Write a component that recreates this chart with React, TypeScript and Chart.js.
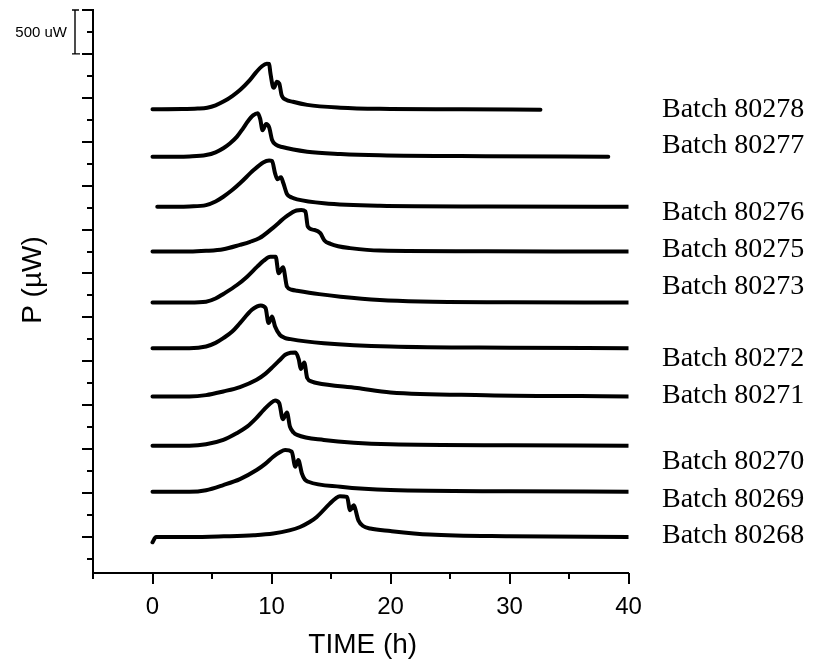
import React, { useEffect, useRef } from 'react';
import { Chart, registerables } from 'chart.js';

Chart.register(...registerables);

// ---- data ----
const batchNames = [
  'Batch 80278', 'Batch 80277', 'Batch 80276', 'Batch 80275', 'Batch 80273',
  'Batch 80272', 'Batch 80271', 'Batch 80270', 'Batch 80269', 'Batch 80268',
];

// vertical stacking offsets of each thermogram (µW)
const offsets = [4870, 4330, 3760, 3250, 2670, 2150, 1600, 1040, 515, 0];

// time (h) and heat flow above own baseline (µW)
const t80278 = [0, 2.5, 3.8, 4.6, 5.3, 6.0, 6.7, 7.4, 8.1, 8.7, 9.2, 9.6, 9.8, 9.9, 10.1, 10.2, 10.45, 10.65, 10.85, 11.2, 11.8, 13.0, 15.8, 19.1, 26, 32.6];
const p80278 = [0, 2, 8, 18, 45, 90, 150, 225, 320, 420, 490, 518, 515, 420, 265, 245, 312, 295, 160, 110, 85, 50, 18, 5, 0, -5];

const t80277 = [0, 2.0, 3.1, 4.5, 5.3, 5.95, 6.5, 7.1, 7.6, 8.0, 8.45, 8.85, 9.05, 9.25, 9.55, 9.8, 10.05, 10.4, 10.9, 13.0, 15.8, 19.1, 28, 38.3];
const p80277 = [0, 0, 3, 19, 50, 96, 150, 228, 320, 400, 470, 494, 430, 300, 372, 335, 190, 135, 110, 57, 31, 16, 5, 0];

const t80276 = [0.4, 2.0, 3.1, 4.5, 5.3, 5.95, 6.7, 7.35, 8.5, 9.3, 9.8, 10.05, 10.3, 10.5, 10.8, 11.0, 11.3, 11.7, 12.15, 14.4, 19.1, 28, 40];
const p80276 = [0, 0, 3, 19, 60, 114, 190, 267, 418, 505, 526, 520, 380, 312, 335, 267, 145, 105, 84, 39, 11, 3, 0];

const t80275 = [0, 2.0, 3.1, 4.5, 5.95, 7.35, 8.2, 9.0, 10.1, 11.25, 12.1, 12.5, 12.85, 13.05, 13.55, 14.1, 14.45, 14.95, 15.6, 16.6, 19.1, 28, 40];
const p80275 = [0, 0, 0, 8, 27, 76, 110, 153, 267, 399, 467, 472, 456, 285, 247, 210, 125, 88, 60, 39, 11, 3, 0];

const t80273 = [0, 2.0, 3.1, 4.5, 5.3, 5.95, 7.1, 7.95, 8.8, 9.35, 9.9, 10.35, 10.6, 10.97, 11.3, 11.7, 12.15, 14, 15.8, 19.1, 22.5, 30, 40];
const p80273 = [0, 0, 0, 9, 45, 97, 199, 294, 408, 476, 520, 520, 333, 401, 180, 145, 134, 95, 66, 28, 11, 3, 0];

const t80272 = [0, 2.0, 3.1, 4.5, 5.3, 5.95, 6.7, 7.35, 8.35, 8.8, 9.1, 9.5, 9.75, 10.05, 10.3, 10.7, 11.1, 11.6, 14.4, 20, 30, 40];
const p80272 = [0, 0, 0, 19, 60, 114, 189, 285, 436, 475, 487, 456, 285, 360, 246, 151, 118, 103, 57, 18, 5, 0];

const t80271 = [0, 2.0, 3.1, 4.5, 5.95, 7.35, 8.75, 9.5, 10.15, 10.7, 11.15, 11.6, 12.0, 12.3, 12.45, 12.75, 13.0, 13.4, 13.8, 17.2, 20, 28, 40];
const p80271 = [0, 0, 0, 15, 57, 107, 190, 260, 342, 415, 475, 498, 501, 418, 312, 387, 210, 170, 153, 96, 46, 15, 0];

const t80270 = [0, 2.0, 3.1, 4.5, 5.95, 7.05, 7.95, 8.7, 9.35, 9.9, 10.3, 10.65, 10.95, 11.3, 11.55, 11.85, 12.15, 14.4, 20, 30, 40];
const p80270 = [0, 0, 0, 15, 65, 140, 216, 310, 407, 480, 513, 483, 301, 376, 216, 150, 122, 65, 16, 5, 0];

const t80269 = [0, 2.0, 3.1, 4.5, 5.95, 7.35, 8.75, 9.5, 10.15, 10.7, 11.15, 11.7, 12.0, 12.25, 12.55, 12.8, 13.1, 15.8, 20, 30, 40];
const p80269 = [0, 0, 0, 18, 76, 144, 247, 320, 399, 450, 475, 456, 285, 361, 210, 140, 114, 57, 19, 5, 0];

const t80268 = [0, 0.3, 3.2, 6.0, 8.5, 10.15, 11.5, 12.4, 13.2, 13.8, 14.9, 15.4, 15.75, 16.35, 16.6, 16.9, 17.3, 17.7, 18.3, 20, 23.3, 30, 40];
const p80268 = [-60, 0, 0, 8, 20, 39, 75, 114, 170, 228, 380, 440, 464, 456, 304, 361, 190, 125, 96, 68, 28, 8, 0];

const seriesTimes = [t80278, t80277, t80276, t80275, t80273, t80272, t80271, t80270, t80269, t80268];
const seriesPower = [p80278, p80277, p80276, p80275, p80273, p80272, p80271, p80270, p80269, p80268];

// axis ticks
const xTicks = [-5, 0, 5, 10, 15, 20, 25, 30, 35, 40];
const xTickLabels = ['', '0', '', '10', '', '20', '', '30', '', '40'];
const yTicks = [-250, 0, 250, 500, 750, 1000, 1250, 1500, 1750, 2000, 2250, 2500, 2750, 3000, 3250,
  3500, 3750, 4000, 4250, 4500, 4750, 5000, 5250, 5500, 5750, 6000];
const yMajorStep = 500;
const scaleBarTop = 6000;
const scaleBarSize = 500;
const scaleBarLabel = '500 uW';

// vertical level (µW) of each batch label
const labelLevels = [4787, 4370, 3610, 3192, 2768, 1948, 1530, 771, 345, -72];

const SANS = '"Liberation Sans", Arial, Helvetica, sans-serif';
const SERIF = '"Liberation Serif", "Times New Roman", serif';

const decorPlugin = {
  id: 'decor',
  afterDraw(chart: any) {
    const ctx = chart.ctx as CanvasRenderingContext2D;
    const xs = chart.scales.x;
    const ys = chart.scales.y;
    const area = chart.chartArea;
    ctx.save();
    ctx.strokeStyle = '#000';
    ctx.fillStyle = '#000';
    ctx.lineWidth = 2;
    ctx.lineCap = 'butt';
    // y tick marks (outward)
    yTicks.forEach((v) => {
      const p = Math.round(ys.getPixelForValue(v));
      const len = v % yMajorStep === 0 ? 11 : 6;
      ctx.beginPath();
      ctx.moveTo(area.left, p);
      ctx.lineTo(area.left - len, p);
      ctx.stroke();
    });
    // x tick marks (outward)
    xTicks.forEach((v, i) => {
      const p = Math.round(xs.getPixelForValue(v));
      const len = xTickLabels[i] !== '' ? 11 : 6;
      ctx.beginPath();
      ctx.moveTo(p, area.bottom);
      ctx.lineTo(p, area.bottom + len);
      ctx.stroke();
    });
    // scale bar
    const sTop = ys.getPixelForValue(scaleBarTop);
    const sBot = ys.getPixelForValue(scaleBarTop - scaleBarSize);
    const bx = area.left - 18;
    ctx.lineWidth = 1.4;
    ctx.beginPath();
    ctx.moveTo(bx, sTop);
    ctx.lineTo(bx, sBot);
    ctx.moveTo(bx - 3, sTop);
    ctx.lineTo(bx + 4, sTop);
    ctx.moveTo(bx - 3, sBot);
    ctx.lineTo(bx + 5, sBot);
    ctx.stroke();
    ctx.font = `15px ${SANS}`;
    ctx.textAlign = 'right';
    ctx.textBaseline = 'middle';
    ctx.fillText(scaleBarLabel, bx - 8, (sTop + sBot) / 2 + 0.5);
    // batch labels
    ctx.font = `28px ${SERIF}`;
    ctx.textAlign = 'left';
    ctx.textBaseline = 'alphabetic';
    batchNames.forEach((n, i) => {
      ctx.fillText(n, area.right + 33.5, ys.getPixelForValue(labelLevels[i]));
    });
    // x title
    ctx.font = `28px ${SANS}`;
    ctx.textAlign = 'center';
    ctx.fillText('TIME (h)', (area.left + area.right) / 2 + 2, 653);
    // y title
    ctx.translate(41, 280);
    ctx.rotate(-Math.PI / 2);
    ctx.fillText('P (µW)', 0, 0);
    ctx.restore();
  },
};

export default function App() {
  const ref = useRef<HTMLCanvasElement | null>(null);
  useEffect(() => {
    if (!ref.current) return;
    const datasets = batchNames.map((name, i) => ({
      label: name,
      data: seriesTimes[i].map((t, j) => ({ x: t, y: seriesPower[i][j] + offsets[i] })),
      borderColor: '#000',
      backgroundColor: '#000',
      borderWidth: 4,
      borderCapStyle: 'round' as const,
      borderJoinStyle: 'round' as const,
      cubicInterpolationMode: 'monotone' as const,
      pointRadius: 0,
      fill: false,
    }));
    const chart = new Chart(ref.current, {
      type: 'line',
      data: { datasets },
      plugins: [decorPlugin],
      options: {
        responsive: false,
        animation: false,
        layout: { padding: { top: 10, right: 185.5, left: 0, bottom: 0 } },
        plugins: { legend: { display: false }, tooltip: { enabled: false } },
        scales: {
          x: {
            type: 'linear',
            min: -5,
            max: 40,
            afterFit: (s: any) => { s.height = 91; },
            afterBuildTicks: (s: any) => { s.ticks = xTicks.map((v) => ({ value: v })); },
            ticks: {
              callback: (_v: any, i: number) => xTickLabels[i],
              font: { family: SANS, size: 24 },
              color: '#000',
              padding: 20,
              maxRotation: 0,
              autoSkip: false,
            },
            grid: { display: false, drawTicks: false },
            border: { display: true, color: '#000', width: 2 },
          },
          y: {
            type: 'linear',
            min: -410,
            max: 6000,
            afterFit: (s: any) => { s.width = 93; },
            ticks: { display: false },
            grid: { display: false, drawTicks: false },
            border: { display: true, color: '#000', width: 2 },
          },
        },
      },
    });
    return () => chart.destroy();
  }, []);
  return (
    <div style={{ position: 'fixed', left: 0, top: 0, width: 814, height: 664, background: '#fff' }}>
      <canvas ref={ref} width={814} height={664} style={{ display: 'block' }} />
    </div>
  );
}
